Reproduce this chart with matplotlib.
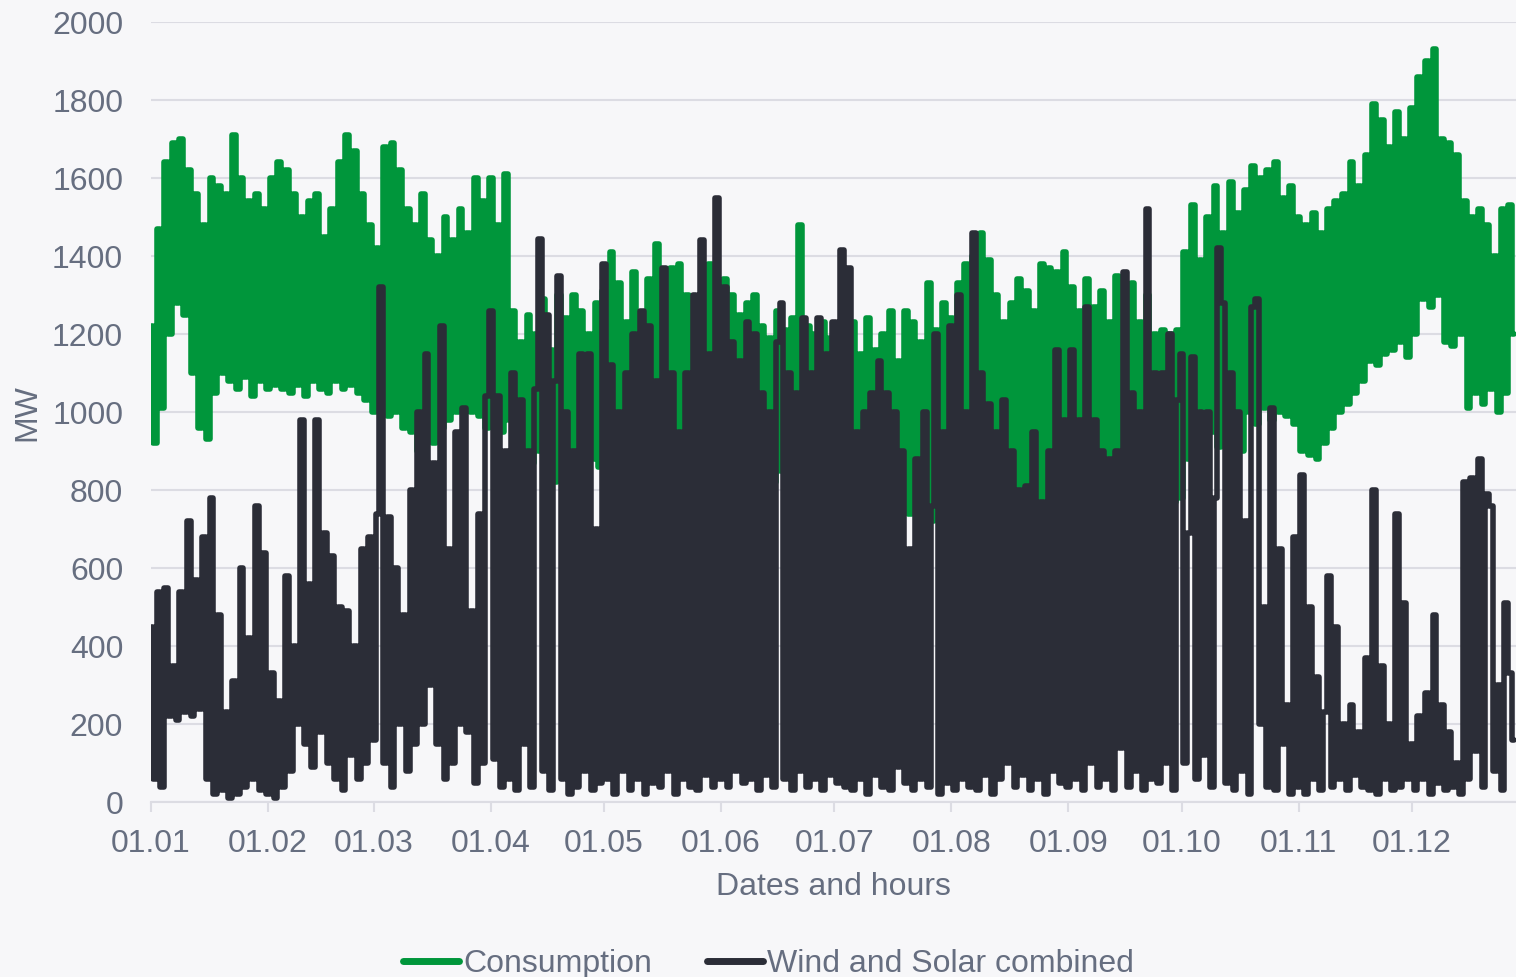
import matplotlib
matplotlib.use("Agg")
import matplotlib.pyplot as plt
import numpy as np

plt.rcParams.update({
    "font.family": ["Liberation Sans", "DejaVu Sans"],
    "font.size": 23,
})

# Hourly-ish profile, sampled once per day (alternating daily highs/lows), MW
consumption = [
    # Jan
    1220, 920, 1470, 1010, 1640, 1200, 1690, 1280, 1700, 1250, 1620, 1100, 1560, 960, 1480, 930,
    1600, 1050, 1580, 1100, 1560, 1080, 1710, 1060, 1600, 1090, 1540, 1040, 1560, 1080, 1520,
    # Feb
    1060, 1600, 1070, 1640, 1060, 1620, 1050, 1560, 1070, 1500, 1040, 1540, 1080, 1560, 1060,
    1450, 1050, 1520, 1080, 1640, 1060, 1710, 1070, 1670, 1050, 1560, 1030, 1480,
    # Mar
    1000, 1420, 1000, 1680, 990, 1690, 1000, 1620, 960, 1520, 950, 1480, 900, 1560, 940, 1440,
    920, 1400, 960, 1500, 980, 1440, 1000, 1520, 1010, 1460, 1000, 1600, 990, 1540, 960,
    # Apr
    1600, 1000, 1480, 950, 1610, 980, 1260, 900, 1180, 880, 1250, 870, 1200, 900, 1290, 830,
    1160, 820, 1300, 860, 1240, 840, 1300, 880, 1260, 850, 1200, 880, 1280, 860,
    # May
    1310, 880, 1410, 900, 1330, 870, 1230, 850, 1360, 880, 1250, 830, 1340, 860, 1430, 880,
    1290, 850, 1370, 820, 1380, 880, 1300, 860, 1210, 830, 1290, 850, 1380, 870, 1320,
    # Jun
    860, 1340, 870, 1300, 840, 1250, 860, 1280, 830, 1300, 850, 1220, 840, 1190, 820, 1260,
    850, 1210, 830, 1240, 820, 1480, 800, 1220, 840, 1200, 810, 1230, 830, 1190,
    # Jul
    780, 1200, 800, 1180, 790, 1230, 760, 1150, 800, 1240, 780, 1160, 770, 1200, 750, 1260,
    790, 1130, 760, 1260, 740, 1230, 760, 1180, 700, 1330, 720, 1210, 760, 1280, 770,
    # Aug
    1240, 780, 1330, 760, 1380, 790, 1400, 770, 1460, 800, 1390, 760, 1300, 750, 1230, 740,
    1280, 760, 1340, 720, 1310, 730, 1260, 750, 1380, 740, 1370, 760, 1360, 780, 1410,
    # Sep
    770, 1320, 760, 1260, 800, 1340, 790, 1270, 810, 1310, 800, 1230, 790, 1350, 820, 1280,
    800, 1330, 840, 1230, 830, 1300, 850, 1200, 810, 1210, 780, 1200, 770, 1210,
    # Oct
    780, 1410, 880, 1530, 890, 1390, 880, 1500, 950, 1580, 910, 1460, 950, 1590, 960, 1510,
    900, 1570, 1000, 1630, 970, 1600, 1010, 1620, 980, 1640, 1000, 1550, 990, 1580, 970,
    # Nov
    1500, 900, 1480, 890, 1510, 880, 1460, 920, 1520, 960, 1540, 1000, 1560, 1020, 1640, 1050,
    1580, 1080, 1660, 1130, 1790, 1120, 1750, 1150, 1680, 1160, 1770, 1180, 1700, 1140,
    # Dec
    1780, 1200, 1860, 1290, 1900, 1270, 1930, 1300, 1700, 1180, 1690, 1170, 1660, 1200, 1540,
    1010, 1500, 1050, 1520, 1020, 1480, 1060, 1400, 1000, 1520, 1050, 1530, 1200,
]

wind_solar = [
    # Jan
    450, 60, 540, 40, 550, 220, 350, 210, 540, 230, 720, 220, 570, 240, 680, 60,
    780, 20, 480, 30, 230, 10, 310, 20, 600, 40, 420, 60, 760, 30, 640,
    # Feb
    20, 330, 10, 260, 40, 580, 80, 400, 200, 980, 150, 560, 90, 980, 180, 690,
    100, 630, 60, 500, 30, 490, 120, 400, 60, 650, 100, 680,
    # Mar
    160, 740, 1320, 100, 730, 40, 600, 200, 480, 80, 800, 150, 1000, 200, 1150, 300,
    870, 150, 1220, 60, 650, 100, 950, 200, 1010, 180, 490, 50, 740, 100, 1040,
    # Apr
    1260, 110, 1040, 40, 900, 60, 1100, 30, 1030, 150, 900, 40, 1060, 1445, 80, 1250,
    30, 1080, 1350, 60, 1000, 20, 900, 40, 1150, 80, 1150, 30, 700, 50,
    # May
    1380, 60, 1120, 20, 1000, 80, 1100, 30, 1200, 60, 1260, 20, 1220, 50, 1080, 40,
    1370, 80, 1100, 20, 950, 60, 1100, 40, 1300, 30, 1440, 70, 1150, 40, 1550,
    # Jun
    60, 1320, 40, 1180, 80, 1130, 50, 1230, 60, 1200, 30, 1050, 70, 1000, 40, 1180,
    1280, 60, 1100, 30, 1050, 80, 1240, 40, 1100, 60, 1240, 30, 1150, 70,
    # Jul
    1230, 50, 1415, 40, 1370, 30, 950, 60, 1000, 20, 1050, 70, 1130, 40, 1050, 30,
    1000, 90, 900, 50, 650, 30, 880, 60, 1000, 40, 760, 1200, 20, 950, 50,
    # Aug
    1220, 30, 1300, 60, 1000, 40, 1460, 30, 1100, 70, 1020, 20, 950, 60, 1030, 100,
    900, 40, 800, 70, 810, 30, 950, 60, 770, 20, 900, 80, 1160, 50, 980,
    # Sep
    40, 1160, 60, 980, 30, 1270, 100, 980, 40, 900, 60, 880, 30, 900, 140, 1360,
    40, 1050, 80, 1000, 30, 1520, 60, 1100, 50, 1100, 100, 1200, 30, 1030,
    # Oct
    1150, 100, 690, 1140, 60, 1000, 120, 1000, 40, 780, 1420, 1280, 50, 1100, 30, 1000,
    80, 720, 20, 1270, 1290, 200, 500, 40, 1010, 30, 650, 150, 250, 20, 680,
    # Nov
    40, 840, 20, 500, 60, 320, 30, 230, 580, 40, 450, 60, 200, 30, 250, 70,
    180, 40, 370, 30, 800, 20, 350, 60, 200, 30, 740, 40, 510, 60,
    # Dec
    150, 30, 220, 60, 280, 20, 480, 50, 250, 30, 180, 40, 100, 20, 820, 60,
    830, 130, 880, 40, 790, 760, 80, 300, 30, 510, 330, 160,
]

month_starts = [0, 31, 59, 90, 120, 151, 181, 212, 243, 273, 304, 334]
month_labels = ["01.01", "01.02", "01.03", "01.04", "01.05", "01.06",
                "01.07", "01.08", "01.09", "01.10", "01.11", "01.12"]

BG = "#f7f7f9"
GRID = "#dcdce3"
TEXT = "#666e80"
GREEN = "#00963b"
DARK = "#2b2d37"

fig = plt.figure(figsize=(15.16, 9.77), dpi=100, facecolor=BG)
ax = fig.add_axes([0.0996, 0.179, 0.9004, 0.7984], facecolor=BG)

days_c = np.arange(len(consumption))
days_w = np.arange(len(wind_solar))
ax.plot(days_c, consumption, color=GREEN, lw=4.0, label="Consumption",
        drawstyle="steps-mid", solid_joinstyle="round", solid_capstyle="round", zorder=3)
ax.plot(days_w, wind_solar, color=DARK, lw=4.0, label="Wind and Solar combined",
        drawstyle="steps-mid", solid_joinstyle="round", solid_capstyle="round", zorder=4)

ax.set_xlim(0, 361.6)
ax.set_ylim(0, 2000)
ax.set_yticks(range(0, 2001, 200))
ax.set_xticks(month_starts)
ax.set_xticklabels(month_labels)

ax.grid(axis="y", color=GRID, lw=1.5, zorder=1)
ax.grid(axis="x", visible=False)
for s in ("top", "right", "left"):
    ax.spines[s].set_visible(False)
ax.spines["bottom"].set_color(GRID)
ax.spines["bottom"].set_linewidth(1.5)
ax.spines["bottom"].set_zorder(2)

ax.tick_params(axis="x", colors=GRID, length=7, width=1.5, pad=12.5,
               labelcolor=TEXT, labelsize=23)
ax.tick_params(axis="y", length=0, pad=20, labelcolor=TEXT, labelsize=23)

ax.set_ylabel("MW", color=TEXT, fontsize=23, labelpad=7)
ax.set_xlabel("Dates and hours", color=TEXT, fontsize=23, labelpad=9)

leg = fig.legend(loc="center", bbox_to_anchor=(0.507, 0.013), ncol=2, frameon=False,
                 fontsize=23, handlelength=1.75, handletextpad=0.15, columnspacing=1.7)
for t in leg.get_texts():
    t.set_color(TEXT)
for h in leg.get_lines():
    h.set_linewidth(5)
    h.set_solid_capstyle("round")

fig.savefig("out.png", dpi=100, facecolor=BG)
